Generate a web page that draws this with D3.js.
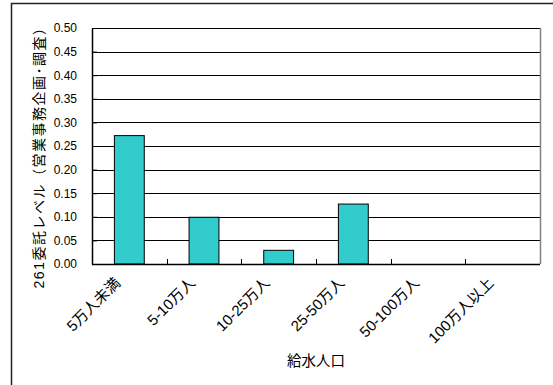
<!DOCTYPE html>
<html>
<head>
<meta charset="utf-8">
<script src="https://cdn.jsdelivr.net/npm/d3@7"></script>
<style>
  body { margin: 0; background: #fff; }
  svg text { font-family: "Liberation Sans", Arial, "Noto Sans CJK JP", sans-serif; fill: #000; }
</style>
</head>
<body>
<script>
// data
var categories = ["5万人未満", "5-10万人", "10-25万人", "25-50万人", "50-100万人", "100万人以上"];
var values = [0.272, 0.099, 0.029, 0.127, 0, 0];
var yTicks = [0, 0.05, 0.10, 0.15, 0.20, 0.25, 0.30, 0.35, 0.40, 0.45, 0.50];
var yTitle = "261委託レベル（営業事務企画･調査）";
var xTitle = "給水人口";

var W = 553, H = 385;
var margin = {top: 28, right: 13, bottom: 121, left: 92},
    width = W - margin.left - margin.right,
    height = H - margin.top - margin.bottom;

var svg = d3.select("body").append("svg")
    .attr("width", W)
    .attr("height", H);

// outer chart frame (cut off at right and bottom)
svg.append("rect")
    .attr("x", 11.5).attr("y", 3.5)
    .attr("width", W + 20).attr("height", H + 20)
    .attr("fill", "none")
    .attr("stroke", "#222")
    .attr("stroke-width", 1.5);

var g = svg.append("g")
    .attr("transform", "translate(" + margin.left + "," + margin.top + ")");

var xBand = d3.scaleBand().domain(categories).range([0, width]);
var yScale = d3.scaleLinear().domain([0, 0.5]).range([height, 0]);

// gridlines
g.selectAll(".grid")
    .data(yTicks)
  .enter().append("line")
    .attr("class", "grid")
    .attr("x1", 0).attr("x2", width)
    .attr("y1", function(d) { return Math.round(yScale(d)) + 0.5; })
    .attr("y2", function(d) { return Math.round(yScale(d)) + 0.5; })
    .attr("stroke", "#000")
    .attr("stroke-width", 1);

// plot area right border
g.append("line")
    .attr("x1", width + 0.5).attr("x2", width + 0.5)
    .attr("y1", 0).attr("y2", height)
    .attr("stroke", "#808080")
    .attr("stroke-width", 1.5);

// bars
g.selectAll(".bar")
    .data(values)
  .enter().append("rect")
    .attr("class", "bar")
    .attr("x", function(d, i) { return xBand(categories[i]) + xBand.bandwidth() * 0.3; })
    .attr("width", xBand.bandwidth() * 0.4)
    .attr("y", function(d) { return yScale(d); })
    .attr("height", function(d) { return height - yScale(d); })
    .attr("fill", "#33CCCC")
    .attr("stroke", "#000")
    .attr("stroke-width", 1)
    .style("display", function(d) { return d > 0 ? null : "none"; });

// y axis
var yAxis = d3.axisLeft(yScale)
    .tickValues(yTicks)
    .tickFormat(d3.format(".2f"))
    .tickSizeInner(-5)
    .tickSizeOuter(0)
    .tickPadding(15);
var ya = g.append("g").call(yAxis);
ya.select(".domain").attr("stroke", "#000").attr("stroke-width", 1.5);
ya.selectAll("line").attr("stroke", "#000");
ya.selectAll("text").style("font-size", "12px");

// x axis with tick marks at band boundaries
g.append("line")
    .attr("x1", 0).attr("x2", width)
    .attr("y1", height + 0.5).attr("y2", height + 0.5)
    .attr("stroke", "#000")
    .attr("stroke-width", 1.5);
g.selectAll(".xtick")
    .data(categories.slice(1))
  .enter().append("line")
    .attr("class", "xtick")
    .attr("x1", function(d) { return Math.round(xBand(d)) + 0.5; })
    .attr("x2", function(d) { return Math.round(xBand(d)) + 0.5; })
    .attr("y1", height).attr("y2", height - 5)
    .attr("stroke", "#000");

// rotated category labels
g.selectAll(".xlabel")
    .data(categories)
  .enter().append("text")
    .attr("class", "xlabel")
    .attr("transform", function(d) {
      return "translate(" + (xBand(d) + xBand.bandwidth() / 2 - 8) + "," + (height + 20) + ") rotate(-45)";
    })
    .style("text-anchor", "end")
    .style("font-size", "15px")
    .text(function(d) { return d; });

// axis titles
svg.append("text")
    .attr("transform", "translate(" + 44 + "," + (margin.top + height / 2 + 8) + ") rotate(-90)")
    .style("text-anchor", "middle")
    .style("font-size", "14px")
    .style("letter-spacing", "1.5px")
    .text(yTitle);

svg.append("text")
    .attr("x", margin.left + width / 2)
    .attr("y", 366)
    .style("text-anchor", "middle")
    .style("font-size", "14.5px")
    .text(xTitle);
</script>
</body>
</html>
